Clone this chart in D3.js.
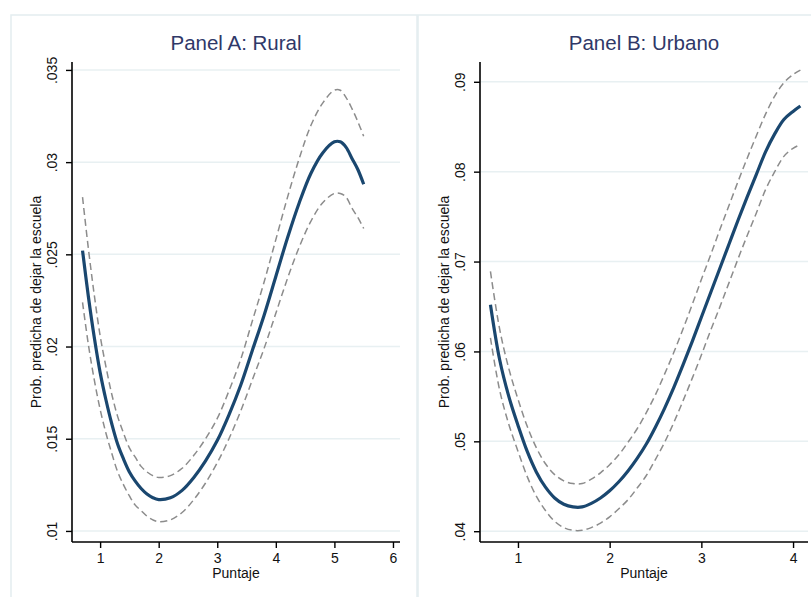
<!DOCTYPE html>
<html>
<head>
<meta charset="utf-8">
<script src="https://cdn.jsdelivr.net/npm/d3@7"></script>
<style>
  body { margin: 0; background: #fff; }
  svg text { font-family: "Liberation Sans", Arial, sans-serif; }
</style>
</head>
<body>
<svg id="chart" width="811" height="597"></svg>
<script>
// ---- data ----
const xA = [0.7, 0.8, 0.9, 1.0, 1.1, 1.2, 1.3, 1.4, 1.5, 1.6, 1.7, 1.8, 1.9, 2.0, 2.2, 2.4, 2.6, 2.8, 3.0,
            3.2, 3.4, 3.6, 3.8, 4.0, 4.2, 4.4, 4.6, 4.8, 5.0, 5.1, 5.2, 5.3, 5.4, 5.5];
const predA = [.0252, .0227, .0205, .0186, .0171, .0158, .0147, .0139, .0132, .0127, .0123, .0120, .0118, .0117,
               .0118, .0122, .0129, .0138, .0149, .0163, .0179, .0198, .0217, .0238, .0259, .0278, .0294,
               .0305, .0311, .0311, .0308, .0302, .0296, .0288];
const upperA = [.0281, .0253, .0228, .0206, .0189, .0174, .0162, .0153, .0145, .0140, .0135, .0132, .0130, .0129,
                .0130, .0134, .0141, .0150, .0161, .0176, .0193, .0214, .0235, .0258, .0281, .0302, .0320,
                .0332, .0339, .0339, .0335, .0329, .0322, .0314];
const lowerA = [.0224, .0201, .0182, .0166, .0153, .0142, .0132, .0125, .0119, .0114, .0111, .0108, .0106, .0105,
                .0106, .0110, .0117, .0126, .0137, .0150, .0165, .0182, .0199, .0218, .0237, .0254, .0268,
                .0278, .0283, .0283, .0281, .0275, .0270, .0264];

const xB = [0.7, 0.8, 0.9, 1.0, 1.1, 1.2, 1.3, 1.4, 1.5, 1.6, 1.7, 1.8, 1.9, 2.0, 2.1, 2.2, 2.3, 2.4, 2.5,
            2.6, 2.7, 2.8, 2.9, 3.0, 3.1, 3.2, 3.3, 3.4, 3.5, 3.6, 3.7, 3.8, 3.9, 4.0, 4.08];
const predB = [.0652, .0591, .0550, .0518, .0489, .0466, .0449, .0437, .0430, .0427, .0427, .0431, .0437, .0445,
               .0455, .0467, .0481, .0497, .0516, .0537, .0560, .0585, .0611, .0638, .0665, .0692, .0719,
               .0746, .0772, .0797, .0822, .0842, .0858, .0867, .0873];
const upperB = [.0689, .0625, .0581, .0547, .0517, .0493, .0475, .0463, .0456, .0453, .0453, .0458, .0465, .0474,
                .0485, .0499, .0514, .0532, .0552, .0575, .0599, .0625, .0652, .0680, .0707, .0735, .0762,
                .0789, .0815, .0840, .0864, .0884, .0899, .0908, .0913];
const lowerB = [.0615, .0557, .0519, .0489, .0461, .0439, .0423, .0411, .0404, .0401, .0401, .0404, .0409, .0416,
                .0425, .0435, .0448, .0462, .0480, .0499, .0521, .0545, .0570, .0596, .0623, .0649, .0676,
                .0703, .0729, .0754, .0780, .0800, .0817, .0826, .0830];

const titles = ["Panel A: Rural", "Panel B: Urbano"];
const xTicksA = [1, 2, 3, 4, 5, 6];
const xTicksB = [1, 2, 3, 4];
const yTicksA = [.01, .015, .02, .025, .03, .035];
const yTicksB = [.04, .05, .06, .07, .08, .09];
const yLabelsA = [".01", ".015", ".02", ".025", ".03", ".035"];
const yLabelsB = [".04", ".05", ".06", ".07", ".08", ".09"];
const xTitle = "Puntaje";
const yTitle = "Prob. predicha de dejar la escuela";

// ---- layout ----
const svg = d3.select("#chart");
const BORDER = "#e4edf0";
const GRID = "#e8f0f2";
const NAVY = "#1a476f";

const panels = [
    { x: xA, pred: predA, hi: upperA, lo: lowerA, title: titles[0],
      xTicks: xTicksA, yTicks: yTicksA, yLabels: yLabelsA,
      xDomain: [0.52, 6.12], yDomain: [.0094, .03543],
      left: 72, right: 400, box: [11, 15, 406, 600] },
    { x: xB, pred: predB, hi: upperB, lo: lowerB, title: titles[1],
      xTicks: xTicksB, yTicks: yTicksB, yLabels: yLabelsB,
      xDomain: [0.586, 4.163], yDomain: [.0388, .0922],
      left: 480, right: 808, box: [418, 15, 420, 600] }
];
const plotTop = 62, plotBottom = 542;

panels.forEach(p => {
    // panel frame
    svg.append("rect")
        .attr("x", p.box[0]).attr("y", p.box[1])
        .attr("width", p.box[2]).attr("height", p.box[3])
        .attr("fill", "#fff").attr("stroke", BORDER).attr("stroke-width", 1.5);

    const x = d3.scaleLinear().domain(p.xDomain).range([p.left, p.right]);
    const y = d3.scaleLinear().domain(p.yDomain).range([plotBottom, plotTop]);

    // gridlines
    svg.append("g").selectAll("line").data(p.yTicks).join("line")
        .attr("x1", p.left + 1).attr("x2", p.right)
        .attr("y1", d => y(d)).attr("y2", d => y(d))
        .attr("stroke", GRID).attr("stroke-width", 1.5);

    const line = (ys) => d3.line()
        .x((d, i) => x(p.x[i]))
        .y(d => y(d))
        .curve(d3.curveCatmullRom.alpha(0.5))(ys);

    // confidence bands
    [p.hi, p.lo].forEach(band => {
        svg.append("path").attr("d", line(band))
            .attr("fill", "none").attr("stroke", "#8c8c8c")
            .attr("stroke-width", 1.5).attr("stroke-dasharray", "7,4");
    });

    // prediction
    svg.append("path").attr("d", line(p.pred))
        .attr("fill", "none").attr("stroke", NAVY).attr("stroke-width", 3.2);

    // x axis
    const xAxis = svg.append("g").attr("transform", `translate(0,${plotBottom})`)
        .call(d3.axisBottom(x).tickValues(p.xTicks).tickSize(6).tickPadding(5).tickFormat(d3.format("d")));
    xAxis.select(".domain").attr("d", `M${p.left},0H${p.right}`).attr("stroke", "#000").attr("stroke-width", 1.6);
    xAxis.selectAll(".tick line").attr("stroke", "#000").attr("stroke-width", 1.4);
    xAxis.selectAll(".tick text").attr("font-size", 14).attr("fill", "#111")
        .attr("font-family", "Liberation Sans, Arial, sans-serif");

    // y axis
    const yAxis = svg.append("g").attr("transform", `translate(${p.left},0)`)
        .call(d3.axisLeft(y).tickValues(p.yTicks).tickSize(6).tickFormat((d, i) => p.yLabels[i]));
    yAxis.select(".domain").attr("d", `M0,${plotTop}V${plotBottom}`).attr("stroke", "#000").attr("stroke-width", 1.6);
    yAxis.selectAll(".tick line").attr("stroke", "#000").attr("stroke-width", 1.4);
    yAxis.selectAll(".tick text")
        .attr("x", null).attr("dy", null)
        .attr("transform", "translate(-15,0) rotate(-90)")
        .attr("text-anchor", "middle")
        .attr("font-size", 14).attr("fill", "#111")
        .attr("font-family", "Liberation Sans, Arial, sans-serif");

    // titles
    svg.append("text")
        .attr("x", (p.left + p.right) / 2).attr("y", 50)
        .attr("text-anchor", "middle").attr("font-size", 20.5).attr("fill", "#2f3868")
        .text(p.title);
    svg.append("text")
        .attr("x", (p.left + p.right) / 2).attr("y", 578)
        .attr("text-anchor", "middle").attr("font-size", 14).attr("fill", "#111")
        .text(xTitle);
    svg.append("text")
        .attr("transform", `translate(${p.left - 31},${(plotTop + plotBottom) / 2}) rotate(-90)`)
        .attr("text-anchor", "middle").attr("font-size", 14).attr("fill", "#111")
        .text(yTitle);
});
</script>
</body>
</html>
